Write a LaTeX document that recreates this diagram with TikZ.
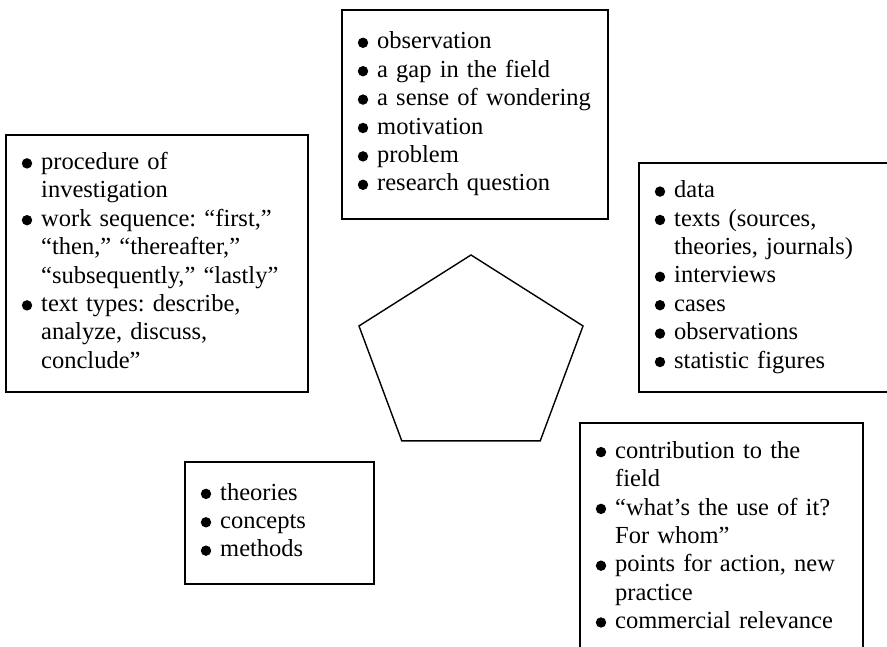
\documentclass[tikz,border=0pt]{standalone}
\usepackage{fontspec}
\setmainfont{Liberation Serif}
\usepackage{tikz}
\usetikzlibrary{positioning,shapes.geometric}
\frenchspacing
\newcommand{\itemdot}{\raisebox{1pt}{\tikz\fill (0pt,0pt) circle[radius=5.2pt];}}

\begin{document}
\begin{tikzpicture}[
    x=1pt,
    y=-1pt,
    font=\fontsize{24.5}{28.4}\selectfont,
    listbox/.style={
		rectangle,
		draw=black,
		line width=1.6pt,
		anchor=north west,
		inner xsep=16pt,
		align=left,
		fill=white
	},
	pentagon/.style={
		regular polygon,
		regular polygon sides=5,
		draw=black,
		line width=1.4pt,
		inner sep=0pt
	}
  ]

 \useasboundingbox (0,0) rectangle (887,646);

% // top box
 \node [listbox, text width=234pt, minimum height=209pt] (question) at (341,9)
 {%
 \begin{tabular}{@{}l@{\hspace{9pt}}l@{}}
  \itemdot & observation\\
  \itemdot & a gap in the field\\
  \itemdot & a sense of wondering\\
  \itemdot & motivation\\
  \itemdot & problem\\
  \itemdot & research question
 \end{tabular}
 };

% // left box
 \node [listbox, text width=270pt, minimum height=257pt] (procedure) at (5,134)
 {%
 \begin{tabular}{@{}l@{\hspace{9pt}}l@{}}
  \itemdot & procedure of\\
           & investigation\\
  \itemdot & work sequence: “first,”\\
           & “then,” “thereafter,”\\
           & “subsequently,” “lastly”\\
  \itemdot & text types: describe,\\
           & analyze, discuss,\\
           & conclude”
 \end{tabular}
 };

% // right box
 \node [listbox, text width=230pt, minimum height=229pt] (material) at (638,162)
 {%
 \begin{tabular}{@{}l@{\hspace{9pt}}l@{}}
  \itemdot & data\\
  \itemdot & texts (sources,\\
           & theories, journals)\\
  \itemdot & interviews\\
  \itemdot & cases\\
  \itemdot & observations\\
  \itemdot & statistic figures
 \end{tabular}
 };

% // bottom right box
 \node [listbox, text width=251pt, minimum height=230pt] (relevance) at (579,422)
 {%
 \begin{tabular}{@{}l@{\hspace{9pt}}l@{}}
  \itemdot & contribution to the\\
           & field\\
  \itemdot & “what’s the use of it?\\
           & For whom”\\
  \itemdot & points for action, new\\
           & practice\\
  \itemdot & commercial relevance
 \end{tabular}
 };

% // bottom left box
 \node [listbox, text width=157pt, minimum height=122pt] (theory) at (184,461)
 {%
 \begin{tabular}{@{}l@{\hspace{9pt}}l@{}}
  \itemdot & theories\\
  \itemdot & concepts\\
  \itemdot & methods
 \end{tabular}
 };

% // the pentagon (a bit flattened)
 \begin{scope}[shift={(471,357.7)}, yscale=0.872]
  \node [pentagon, transform shape, minimum size=235.6pt] (pent) at (0,0) {};
 \end{scope}

\end{tikzpicture}
\end{document}
